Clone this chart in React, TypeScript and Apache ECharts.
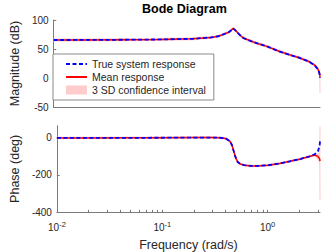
import React, { useEffect, useRef } from "react";
import * as echarts from "echarts";

// Frequency grid (rad/s)
const freq = [0.01, 0.02, 0.05, 0.1, 0.2, 0.3, 0.35, 0.4, 0.44, 0.46, 0.48, 0.5, 0.52, 0.55, 0.6, 0.7, 0.8, 1.0, 1.3, 1.63, 2.0, 2.5, 2.8, 3.0, 3.08, 3.12, 3.1416];

// Magnitude (dB)
const magTrue = [65.5, 65.6, 66, 66.5, 67.5, 70, 72, 76, 79, 82, 85.5, 83, 80, 75, 69, 64, 60, 54.5, 46, 40, 35, 28, 22, 15, 10, 6, 0];
const magMean = [65.5, 65.6, 66, 66.5, 67.5, 70, 72, 76, 79, 82, 85.5, 83, 80, 75, 69, 64, 60, 54.5, 46, 40, 35, 28, 22, 15.5, 10.5, 7, 2];
const magLo = [63.5, 63.6, 64, 64.5, 65.5, 68, 70, 74, 77, 80, 83.5, 81, 78, 73, 67, 62, 58, 52.5, 44, 38, 33, 26, 20, 12, 5, 0, -26];
const magHi = [67.5, 67.6, 68, 68.5, 69.5, 72, 74, 78, 81, 84, 87.5, 85, 82, 77, 71, 66, 62, 56.5, 48, 42, 37, 30, 24, 19, 14, 11, 6];

// Phase (deg)
const phaseTrue = [0, 0, 0.5, 1, 2, 2, 1, -3, -19, -40, -78, -110, -130, -141, -147, -151, -151, -148, -138, -126, -115, -100, -88, -72, -52, -36, -18];
const phaseMean = [0, 0, 0.5, 1, 2, 2, 1, -3, -19, -40, -78, -110, -130, -141, -147, -151, -151, -148, -138, -126, -115, -100, -92, -100, -108, -115, -125];
const phaseLo = [-5, -5, -4.5, -4, -3, -3, -4, -8, -24, -45, -83, -115, -135, -146, -152, -156, -156, -153, -143, -131, -120, -105, -99, -114, -130, -140, -335];
const phaseHi = [5, 5, 5.5, 6, 7, 7, 6, 2, -14, -35, -73, -105, -125, -136, -142, -146, -146, -143, -133, -121, -110, -95, -85, -86, -86, -90, 63];

// Axis ticks
const xTickFreqs = [0.01, 0.02, 0.03, 0.04, 0.05, 0.06, 0.07, 0.08, 0.09, 0.1, 0.2, 0.3, 0.4, 0.5, 0.6, 0.7, 0.8, 0.9, 1, 2, 3];
const xLabelDecades = [-2, -1, 0];
const magTicks = [-50, 0, 50, 100];
const phaseTicks = [-400, -200, 0];

const FONT = "'Liberation Sans', Arial, Helvetica, sans-serif";
const AXIS = "#7a7a7a";
const TXT = "#262626";
const BLUE = "#0000ff";
const RED = "#ff0000";
const PINK = "#ffcccc";

const pts = (ys: number[]) => freq.map((f, i) => [Math.log10(f), ys[i]]);

export default function App() {
  const ref = useRef<HTMLDivElement>(null);
  useEffect(() => {
    if (!ref.current) return;
    const chart = echarts.init(ref.current, null, { renderer: "svg" });
    const xmax = Math.log10(Math.PI);
    const bandSeries = (lo: number[], hi: number[], idx: number) => ({
      name: "3 SD confidence interval",
      type: "custom",
      coordinateSystem: "cartesian2d",
      xAxisIndex: idx,
      yAxisIndex: idx,
      data: pts(hi),
      encode: { x: 0, y: 1 },
      itemStyle: { color: PINK },
      clip: true,
      silent: true,
      z: 1,
      renderItem: (params: any, api: any) => {
        if (params.dataIndex !== 0) return null;
        const upper = freq.map((f, i) => api.coord([Math.log10(f), hi[i]]));
        const lower = freq.map((f, i) => api.coord([Math.log10(f), lo[i]])).reverse();
        return {
          type: "polygon",
          shape: { points: upper.concat(lower) },
          style: { fill: PINK, stroke: PINK, lineWidth: 0.6 },
        };
      },
    });
    const meanSeries = (data: number[], idx: number) => ({
      name: "Mean response", type: "line", xAxisIndex: idx, yAxisIndex: idx, data: pts(data),
      symbol: "none", lineStyle: { color: RED, width: 1.5 }, itemStyle: { color: RED }, z: 2,
    });
    const trueSeries = (data: number[], idx: number) => ({
      name: "True system response", type: "line", xAxisIndex: idx, yAxisIndex: idx, data: pts(data),
      symbol: "none", lineStyle: { color: BLUE, width: 1.8, type: [4, 2.5] }, itemStyle: { color: BLUE }, z: 3,
    });
    const yAxisBase = {
      type: "value",
      axisLine: { show: true, onZero: false, lineStyle: { color: AXIS, width: 1 } },
      axisTick: { show: true, inside: true, length: 2.7, lineStyle: { color: AXIS } },
      axisLabel: { color: TXT, fontSize: 10, fontFamily: FONT, margin: 5 },
      splitLine: { show: false },
      nameLocation: "middle",
      nameRotate: 90,
      nameGap: 27,
      nameTextStyle: { color: TXT, fontSize: 12.5, fontFamily: FONT },
    };
    chart.setOption({
      animation: false,
      textStyle: { fontFamily: FONT },
      title: {
        text: "Bode Diagram", left: 142, top: 2, padding: 0,
        textStyle: { fontSize: 12.5, fontWeight: "bold", color: "#000", fontFamily: FONT },
      },
      legend: {
        orient: "vertical", left: 53, top: 54, padding: [4, 8, 4, 12],
        itemWidth: 21, itemHeight: 9, itemGap: 1,
        borderColor: "#8a8a8a", borderWidth: 1, backgroundColor: "#ffffff",
        selectedMode: false,
        textStyle: { fontSize: 10.5, color: TXT, fontFamily: FONT, lineHeight: 12 },
        data: [
          { name: "True system response", itemStyle: { opacity: 0 } },
          { name: "Mean response", itemStyle: { opacity: 0 } },
          { name: "3 SD confidence interval", icon: "rect", itemStyle: { color: PINK } },
        ],
        z: 10,
      },
      grid: [
        { left: 50, top: 20, right: 12, height: 87 },
        { left: 50, top: 125.7, right: 12, height: 88.3 },
      ],
      xAxis: [
        {
          type: "value", gridIndex: 0, min: -2, max: xmax, interval: 1,
          axisLine: { show: true, onZero: false, lineStyle: { color: AXIS, width: 1 } },
          axisTick: { show: false }, axisLabel: { show: false }, splitLine: { show: false },
        },
        {
          type: "value", gridIndex: 1, min: -2, max: xmax, interval: 1,
          axisLine: { show: true, onZero: false, lineStyle: { color: AXIS, width: 1 } },
          axisTick: {
            show: true, inside: true, length: 2.2, lineStyle: { color: AXIS },
            customValues: xTickFreqs.map((f) => Math.log10(f)),
          },
          axisLabel: {
            customValues: xLabelDecades,
            margin: 8, color: TXT, fontSize: 10, fontFamily: FONT,
            formatter: (v: number) => (Math.abs(v - Math.round(v)) < 1e-6 ? `10{e|${Math.round(v)}}` : ""),
            rich: { e: { fontSize: 7.5, color: TXT, fontFamily: FONT, padding: [0, 0, 6, 0] } },
          },
          splitLine: { show: false },
          name: "Frequency (rad/s)", nameLocation: "middle", nameGap: 26,
          nameTextStyle: { color: TXT, fontSize: 12.5, fontFamily: FONT },
        },
      ],
      yAxis: [
        {
          ...yAxisBase, gridIndex: 0, min: -50, max: 100, interval: 50, name: "Magnitude (dB)",
          axisTick: { ...yAxisBase.axisTick, customValues: magTicks },
          axisLabel: { ...yAxisBase.axisLabel, customValues: magTicks },
        },
        {
          ...yAxisBase, gridIndex: 1, min: -400, max: 66, interval: 200, name: "Phase (deg)",
          axisTick: { ...yAxisBase.axisTick, customValues: phaseTicks },
          axisLabel: { ...yAxisBase.axisLabel, customValues: phaseTicks },
        },
      ],
      series: [
        bandSeries(magLo, magHi, 0),
        meanSeries(magMean, 0),
        trueSeries(magTrue, 0),
        bandSeries(phaseLo, phaseHi, 1),
        meanSeries(phaseMean, 1),
        trueSeries(phaseTrue, 1),
      ],
    });
    return () => chart.dispose();
  }, []);
  return (
    <div
      ref={ref}
      style={{ position: "fixed", left: 0, top: 0, width: 332, height: 252, background: "#fff" }}
    />
  );
}
